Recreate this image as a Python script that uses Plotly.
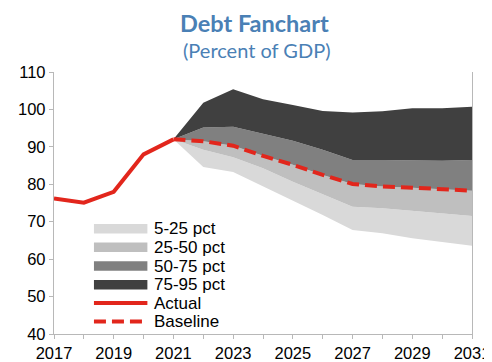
import plotly.graph_objects as go

years_actual = [2017, 2018, 2019, 2020, 2021]
actual = [76.2, 75.1, 78.0, 88.0, 92.0]

years_fan = [2021, 2022, 2023, 2024, 2025, 2026, 2027, 2028, 2029, 2030, 2031]
p5 = [92.0, 84.6, 83.3, 79.5, 75.8, 71.8, 67.8, 66.9, 65.6, 64.7, 63.6]
p25 = [92.0, 89.2, 87.2, 84.3, 80.7, 77.3, 74.0, 73.6, 72.9, 72.4, 71.5]
baseline = [92.0, 91.5, 90.3, 87.6, 85.2, 82.5, 80.1, 79.4, 79.1, 78.7, 78.3]
p75 = [92.0, 95.2, 95.4, 93.6, 91.6, 89.2, 86.5, 86.5, 86.3, 86.3, 86.5]
p95 = [92.0, 101.8, 105.4, 102.7, 101.2, 99.6, 99.2, 99.5, 100.3, 100.3, 100.7]

band_names = ["5-25 pct", "25-50 pct", "50-75 pct", "75-95 pct"]
band_colors = ["#d9d9d9", "#bfbfbf", "#808080", "#404040"]
red = "#e2261c"
title_col = "#4a80b5"
axis_col = "#b8b8b8"

# The page adds an 8px body margin, so the figure is 8px smaller than the window.
OFF = 8
W, H = 492 - OFF, 362 - OFF
ML, MR, MT, MB = 54 - OFF, 19.5, 72 - OFF, 28
PW, PH = W - ML - MR, H - MT - MB


def px(xp):  # page pixel -> paper x
    return (xp - OFF - ML) / PW


def py(yp):  # page pixel -> paper y
    return (H - MB - (yp - OFF)) / PH


fig = go.Figure()
fig.add_trace(go.Scatter(x=years_fan, y=p5, mode="lines", line=dict(width=0),
                         showlegend=False, hoverinfo="skip"))
for vals, name, col in zip([p25, baseline, p75, p95], band_names, band_colors):
    fig.add_trace(go.Scatter(x=years_fan, y=vals, mode="lines", line=dict(width=0),
                             fill="tonexty", fillcolor=col, name=name))
fig.add_trace(go.Scatter(x=years_actual, y=actual, mode="lines", name="Actual",
                         line=dict(color=red, width=4)))
fig.add_trace(go.Scatter(x=years_fan, y=baseline, mode="lines", name="Baseline",
                         line=dict(color=red, width=4, dash="12px,6px")))

# legend (drawn by hand to match the compact row spacing of the reference)
legend_labels = band_names + ["Actual", "Baseline"]
row_y = [228.7, 247.3, 266.0, 284.7, 303.0, 321.5]
sw_x0, sw_x1, txt_x = 94, 147.5, 152.5
shapes = []
annotations = []
for i, lab in enumerate(legend_labels):
    yc = row_y[i]
    if i < 4:
        shapes.append(dict(type="rect", xref="paper", yref="paper",
                           x0=px(sw_x0), x1=px(sw_x1), y0=py(yc + 4.7), y1=py(yc - 4.7),
                           fillcolor=band_colors[i], line=dict(width=0)))
    else:
        shapes.append(dict(type="line", xref="paper", yref="paper",
                           x0=px(sw_x0), x1=px(sw_x1), y0=py(yc), y1=py(yc),
                           line=dict(color=red, width=4,
                                     dash="solid" if i == 4 else "12px,6px")))
    annotations.append(dict(text=lab, xref="paper", yref="paper", x=px(txt_x), y=py(yc),
                            xanchor="left", yanchor="middle", showarrow=False,
                            font=dict(size=17, color="#000000")))

annotations.append(dict(text="<b>Debt Fanchart</b>", xref="paper", yref="paper",
                        x=px(255), y=py(23), xanchor="center", yanchor="middle", showarrow=False,
                        font=dict(family="Lato, sans-serif", size=23.5, color=title_col)))
annotations.append(dict(text="(Percent of GDP)", xref="paper", yref="paper",
                        x=px(257), y=py(50), xanchor="center", yanchor="middle", showarrow=False,
                        font=dict(family="Lato, sans-serif", size=20, color=title_col)))

fig.update_layout(
    width=W, height=H,
    margin=dict(l=ML, r=MR, t=MT, b=MB, autoexpand=False),
    paper_bgcolor="white", plot_bgcolor="white",
    font=dict(family="Liberation Sans, Arial, sans-serif", size=16.5, color="#000000"),
    showlegend=False,
    shapes=shapes,
    annotations=annotations,
)

fig.update_xaxes(range=[2017, 2031], tickmode="linear", tick0=2017, dtick=2,
                 showgrid=False, zeroline=False, showline=True, linecolor=axis_col, linewidth=1.3,
                 ticks="outside", ticklen=4, tickcolor=axis_col, tickwidth=1.3, automargin=False,
                 minor=dict(ticks="outside", dtick=1, ticklen=4, tickcolor=axis_col, tickwidth=1.3))
fig.update_yaxes(range=[40, 110], tickmode="linear", tick0=40, dtick=10,
                 showgrid=False, zeroline=False, showline=True, linecolor=axis_col, linewidth=1.3,
                 mirror=True, ticks="outside", ticklen=4, tickcolor=axis_col, tickwidth=1.3,
                 automargin=False)

fig.write_html("out.html")
